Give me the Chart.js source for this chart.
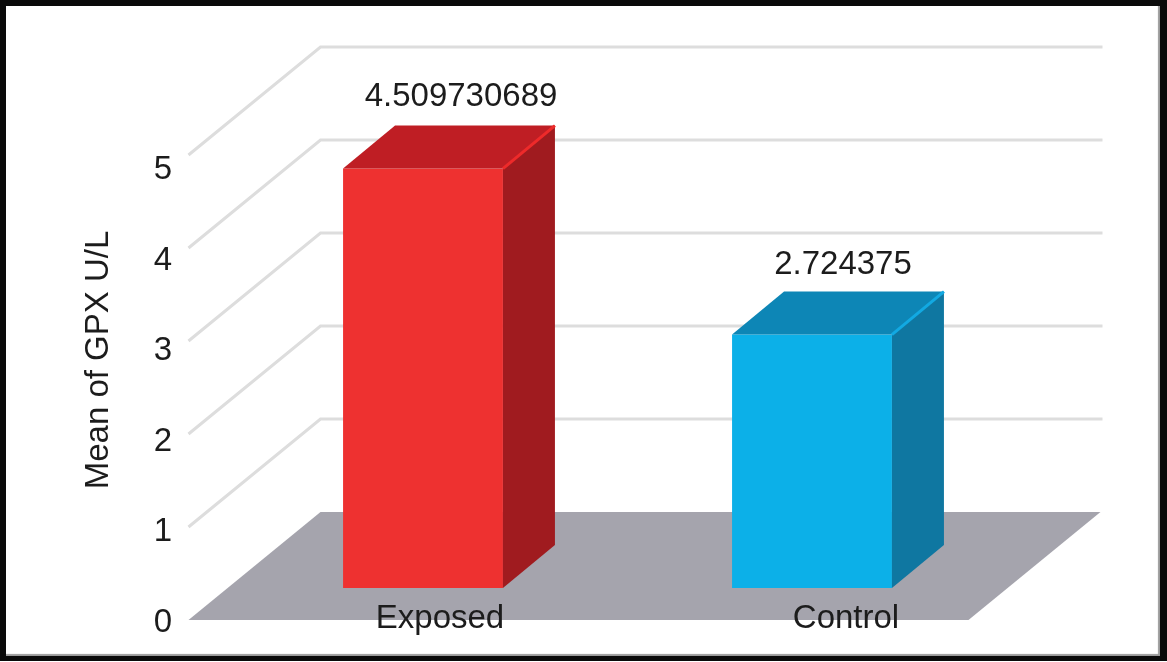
<!DOCTYPE html>
<html>
<head>
<meta charset="utf-8">
<title>Mean of GPX U/L</title>
<script src="https://cdn.jsdelivr.net/npm/chart.js@4/dist/chart.umd.js"></script>
<style>
  html, body { margin: 0; padding: 0; background: #fff; overflow: hidden; }
  #wrap { position: relative; width: 1167px; height: 662px; }
  #chart { display: block; filter: blur(0.5px); }
  #frame { position: absolute; left: 0; top: 0; width: 1154px; height: 650px; border-style: solid; border-color: #0a0a0a; border-width: 6px 7px 5px 6px; box-shadow: inset -2px -2px 1px #9a9a9a; pointer-events: none; }
</style>
</head>
<body>
<div id="wrap">
  <canvas id="chart" width="1167" height="662"></canvas>
  <div id="frame"></div>
</div>
<script>
const categories = ['Exposed', 'Control'];
const values = [4.509730689, 2.724375];
const tickValues = [0, 1, 2, 3, 4, 5];
const axisTitle = 'Mean of GPX U/L';

const frontColors = ['#ee3130', '#0cb0e8'];
const topColors = ['#bf1e24', '#0d86b6'];
const sideColors = ['#a01b1f', '#0f77a1'];
const edgeColors = ['#ee2a2a', '#12a9e2'];

const textColor = '#1c1c1c';
const fontFamily = '"Liberation Sans", Arial, sans-serif';
const fontSize = 33;

// 3D look: offsets of the back wall and floor front from the plane of the bars
const backDx = 92, backDy = -76;
const frontDx = -40, frontDy = 32;
const barDepthX = 52, barDepthY = -43;

const depthPlugin = {
    id: 'depth',
    beforeDatasetsDraw(chart) {
        const { ctx, chartArea, scales } = chart;
        const zero = scales.y.getPixelForValue(0);

        // floor
        ctx.save();
        ctx.fillStyle = '#a5a4ad';
        ctx.beginPath();
        ctx.moveTo(chartArea.left + frontDx, zero + frontDy);
        ctx.lineTo(chartArea.left + backDx, zero + backDy);
        ctx.lineTo(chartArea.right + backDx + 2, zero + backDy);
        ctx.lineTo(chartArea.right + frontDx + 2, zero + frontDy);
        ctx.closePath();
        ctx.fill();

        // grid lines, side wall then back wall
        ctx.strokeStyle = '#dddddd';
        ctx.lineWidth = 3;
        tickValues.slice(1).forEach(v => {
            const py = scales.y.getPixelForValue(v);
            ctx.beginPath();
            ctx.moveTo(chartArea.left + frontDx, py + frontDy);
            ctx.lineTo(chartArea.left + backDx, py + backDy);
            ctx.lineTo(chartArea.right + backDx + 4, py + backDy);
            ctx.stroke();
        });
        ctx.restore();
    },
    afterDatasetsDraw(chart) {
        const { ctx } = chart;
        const bars = chart.getDatasetMeta(0).data;
        ctx.save();
        bars.forEach((bar, i) => {
            const left = bar.x - bar.width / 2;
            const right = bar.x + bar.width / 2;

            // top face
            ctx.fillStyle = topColors[i];
            ctx.beginPath();
            ctx.moveTo(left, bar.y);
            ctx.lineTo(left + barDepthX, bar.y + barDepthY);
            ctx.lineTo(right + barDepthX, bar.y + barDepthY);
            ctx.lineTo(right, bar.y);
            ctx.closePath();
            ctx.fill();

            // side face
            ctx.fillStyle = sideColors[i];
            ctx.beginPath();
            ctx.moveTo(right, bar.y);
            ctx.lineTo(right + barDepthX, bar.y + barDepthY);
            ctx.lineTo(right + barDepthX, bar.base + barDepthY);
            ctx.lineTo(right, bar.base);
            ctx.closePath();
            ctx.fill();

            // bright edge where the top meets the side
            ctx.strokeStyle = edgeColors[i];
            ctx.lineWidth = 3;
            ctx.beginPath();
            ctx.moveTo(right, bar.y);
            ctx.lineTo(right + barDepthX, bar.y + barDepthY);
            ctx.stroke();
        });

        // value and category labels sit off-centre in the original
        ctx.fillStyle = textColor;
        ctx.font = fontSize + 'px ' + fontFamily;
        ctx.textAlign = 'center';
        ctx.textBaseline = 'middle';
        bars.forEach((bar, i) => {
            ctx.fillText(String(values[i]), bar.x + 38 - 7 * i, bar.y - 72 + 2 * i);
            ctx.fillText(categories[i], bar.x + 17 + 17 * i, bar.base + 31);
        });
        ctx.restore();
    }
};

new Chart(document.getElementById('chart'), {
    type: 'bar',
    data: {
        labels: categories,
        datasets: [{
            data: values,
            backgroundColor: frontColors,
            borderWidth: 0,
            categoryPercentage: 1,
            barPercentage: 0.411
        }]
    },
    options: {
        responsive: false,
        animation: false,
        layout: { padding: { left: 60, top: 100, right: 160.5, bottom: 42 } },
        plugins: { legend: { display: false }, tooltip: { enabled: false } },
        scales: {
            x: { display: false },
            // bars stand on the middle of the floor, so this scale starts below zero
            y: { display: false, min: -0.344, max: 5.247 },
            // tick labels follow the front edge of the floor, a little lower than the bars' scale
            yLabels: {
                position: 'left',
                min: 0.033,
                max: 5.773,
                afterFit(scale) {
                    scale.width = 168.5;
                    scale.paddingTop = 0;
                    scale.paddingBottom = 0;
                },
                afterBuildTicks(scale) {
                    scale.ticks = tickValues.map(value => ({ value }));
                },
                grid: { display: false, drawTicks: false },
                border: { display: false },
                ticks: {
                    padding: 56.5,
                    color: textColor,
                    font: { family: fontFamily, size: fontSize }
                },
                title: {
                    display: true,
                    text: axisTitle,
                    color: textColor,
                    padding: { top: 19, bottom: 0 },
                    font: { family: fontFamily, size: fontSize }
                }
            }
        }
    },
    plugins: [depthPlugin]
});
</script>
</body>
</html>
